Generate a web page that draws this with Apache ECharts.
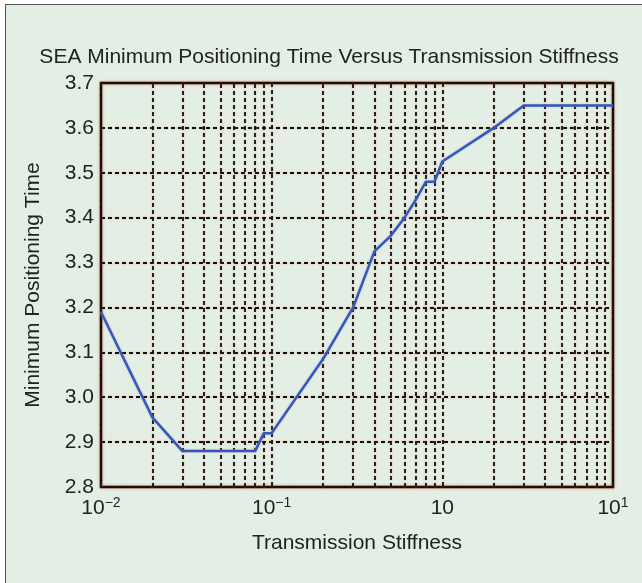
<!DOCTYPE html>
<html>
<head>
<meta charset="utf-8">
<script src="https://cdn.jsdelivr.net/npm/echarts@6/dist/echarts.min.js"></script>
<style>
    body { margin: 0; background: #fff; }
    .wrap { position: relative; width: 642px; height: 583px; overflow: hidden; }
    .panel { position: absolute; left: 5px; top: 4px; width: 700px; height: 700px;
             background: #e3efe5; border: 1.5px solid #555; }
    #chart { position: absolute; left: 0; top: 0; width: 642px; height: 583px; }
</style>
</head>
<body>
<div class="wrap">
    <div class="panel"></div>
    <div id="chart"></div>
</div>
<script>
    // stiffness (log axis) and minimum positioning time
    var stiffness = [0.01, 0.02, 0.03, 0.08, 0.09, 0.1, 0.2, 0.3, 0.4, 0.5, 0.6, 0.7, 0.8, 0.9, 1, 2, 3, 10];
    var posTime   = [3.19, 2.955, 2.88, 2.88, 2.92, 2.92, 3.085, 3.2, 3.325, 3.36, 3.40, 3.44, 3.48, 3.48, 3.525, 3.60, 3.65, 3.65];

    // x tick labels: base and exponent (10^-2, 10^-1, 10, 10^1)
    var xTickBase = ['10', '10', '10', '10'];
    var xTickExp  = ['\u22122', '\u22121', '', '1'];

    // minor log grid lines
    var minorGrid = [0.02, 0.03, 0.04, 0.05, 0.06, 0.07, 0.08, 0.09,
                     0.2, 0.3, 0.4, 0.5, 0.6, 0.7, 0.8, 0.9,
                     2, 3, 4, 5, 6, 7, 8, 9];

    var gridLine = {
        color: '#111',
        width: 1.8,
        type: [4, 3],
        shadowColor: 'rgba(235,125,85,0.75)',
        shadowBlur: 2
    };

    var myChart = echarts.init(document.getElementById('chart'));
    var option = {
        backgroundColor: 'transparent',
        textStyle: { fontFamily: 'Liberation Sans, Arial, sans-serif' },
        title: {
            text: 'SEA Minimum Positioning Time Versus Transmission Stiffness',
            left: 324,
            textAlign: 'center',
            top: 42,
            textStyle: { fontSize: 21, fontWeight: 'normal', color: '#222' }
        },
        grid: {
            left: 101, top: 83, width: 512, height: 404,
            show: true,
            borderColor: '#000',
            borderWidth: 2.5,
            shadowColor: 'rgba(235,125,85,0.8)',
            shadowBlur: 3
        },
        xAxis: {
            type: 'log',
            logBase: 10,
            min: 0.01,
            max: 10,
            name: 'Transmission Stiffness',
            nameLocation: 'middle',
            nameGap: 46,
            nameTextStyle: { fontSize: 21, color: '#222' },
            axisLine: { show: false },
            axisTick: { show: false },
            axisLabel: {
                margin: 9,
                color: '#222',
                formatter: function (v, i) {
                    var s = '{b|' + xTickBase[i] + '}';
                    if (xTickExp[i]) s += '{s|' + xTickExp[i] + '}';
                    return s;
                },
                rich: {
                    b: { fontSize: 21, lineHeight: 24, color: '#222' },
                    s: { fontSize: 14, lineHeight: 24, verticalAlign: 'top', color: '#222' }
                }
            },
            splitLine: { show: true, lineStyle: gridLine }
        },
        yAxis: {
            type: 'value',
            min: 2.8,
            max: 3.7,
            interval: 0.1,
            name: 'Minimum Positioning Time',
            nameLocation: 'middle',
            nameGap: 57,
            nameTextStyle: { fontSize: 21, color: '#222' },
            axisLine: { show: false },
            axisTick: { show: false },
            axisLabel: {
                margin: 7,
                fontSize: 21,
                color: '#222',
                formatter: function (v) { return v.toFixed(1); }
            },
            splitLine: { show: true, lineStyle: gridLine }
        },
        series: [
            {
                type: 'line',
                z: 3,
                data: stiffness.map(function (x, i) { return [x, posTime[i]]; }),
                symbol: 'none',
                lineStyle: {
                    color: '#2b5cbd',
                    width: 2.5,
                    shadowColor: 'rgba(220,120,160,0.6)',
                    shadowBlur: 2
                },
                markLine: {
                    silent: true,
                    z: 1,
                    symbol: ['none', 'none'],
                    label: { show: false },
                    lineStyle: gridLine,
                    data: minorGrid.map(function (v) { return { xAxis: v }; })
                }
            }
        ]
    };
    myChart.setOption(option);
</script>
</body>
</html>
